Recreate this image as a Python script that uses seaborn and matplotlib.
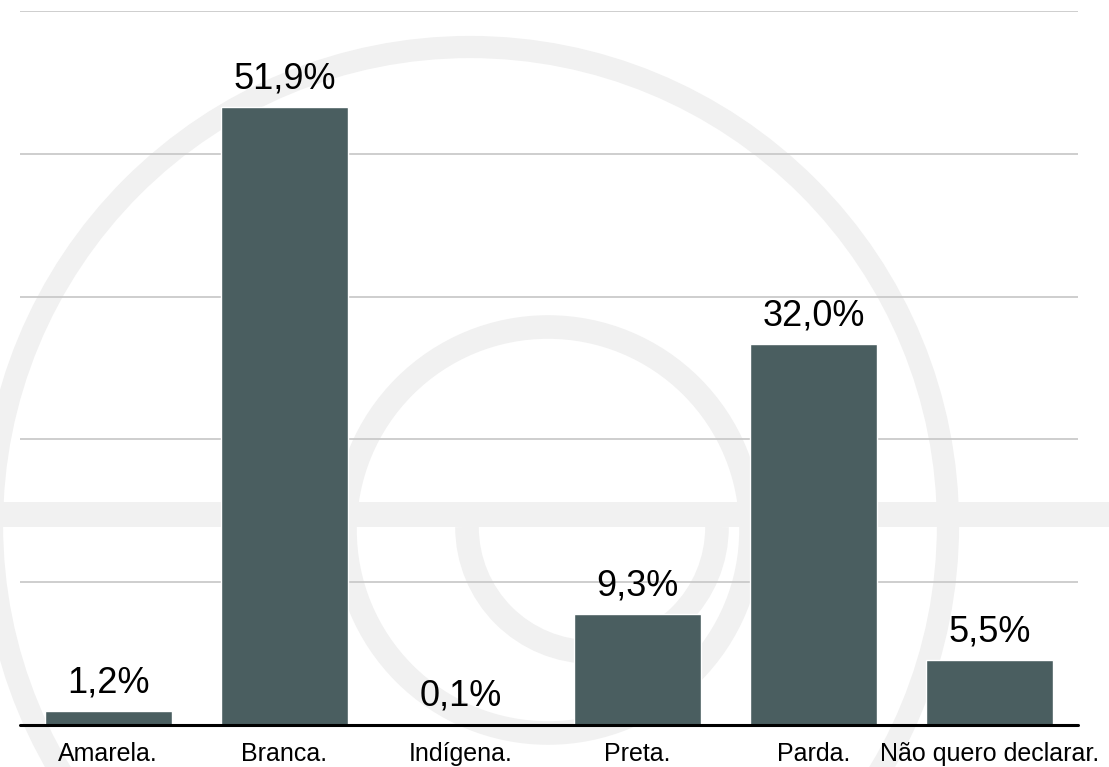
import matplotlib
matplotlib.use("Agg")
import matplotlib.pyplot as plt
from matplotlib.patches import Circle, Arc, Rectangle
import seaborn as sns
import pandas as pd

# dados do gráfico
categorias = ['Amarela.', 'Branca.', 'Indígena.', 'Preta.', 'Parda.', 'Não quero declarar.']
valores = [1.2, 51.9, 0.1, 9.3, 32.0, 5.5]
rotulos = ['1,2%', '51,9%', '0,1%', '9,3%', '32,0%', '5,5%']
grade_y = [12, 24, 36, 48, 60]

sns.set_style("white")
plt.rcParams['font.family'] = ['Liberation Sans', 'DejaVu Sans']

df = pd.DataFrame({'cat': categorias, 'val': valores})

W, H = 1109, 767
fig = plt.figure(figsize=(W / 100, H / 100), dpi=100)

# marca d'agua ao fundo (em pixels)
bg = fig.add_axes([0, 0, 1, 1], zorder=0)
bg.set_xlim(0, W)
bg.set_ylim(H, 0)
bg.axis('off')
wm = '#f1f1f1'
bg.add_patch(Circle((470, 525), 478, fill=False, ec=wm, lw=16))
bg.add_patch(Rectangle((0, 502), W, 25, fc=wm, ec='none'))
bg.add_patch(Circle((548, 530), 203, fill=False, ec=wm, lw=17))
bg.add_patch(Arc((592, 527), 250, 250, theta1=0, theta2=180, ec=wm, lw=17))

ax = fig.add_axes([20 / W, 42 / H, 1058 / W, 714 / H], zorder=1)
ax.patch.set_alpha(0)
sns.barplot(data=df, x='cat', y='val', color='#4a5e60', saturation=1, width=0.72, ax=ax)

ax.set_ylim(0, 60)
ax.set_xlim(-0.5, 5.5)
ax.set_yticks(grade_y)
ax.set_yticklabels([])
ax.yaxis.grid(True, color='#c6c6c6', lw=1.2)
ax.set_axisbelow(True)
ax.axhline(0, color='black', lw=2.2, zorder=5, clip_on=False)
sns.despine(ax=ax, left=True, bottom=True, top=True, right=True)

ax.bar_label(ax.containers[0], labels=rotulos, padding=7.5, fontsize=26, color='black')

ax.set_xlabel('')
ax.set_ylabel('')
ax.tick_params(axis='x', length=0, pad=12, labelsize=18, labelcolor='black')
ax.tick_params(axis='y', length=0)

fig.savefig('out.png', dpi=100)
